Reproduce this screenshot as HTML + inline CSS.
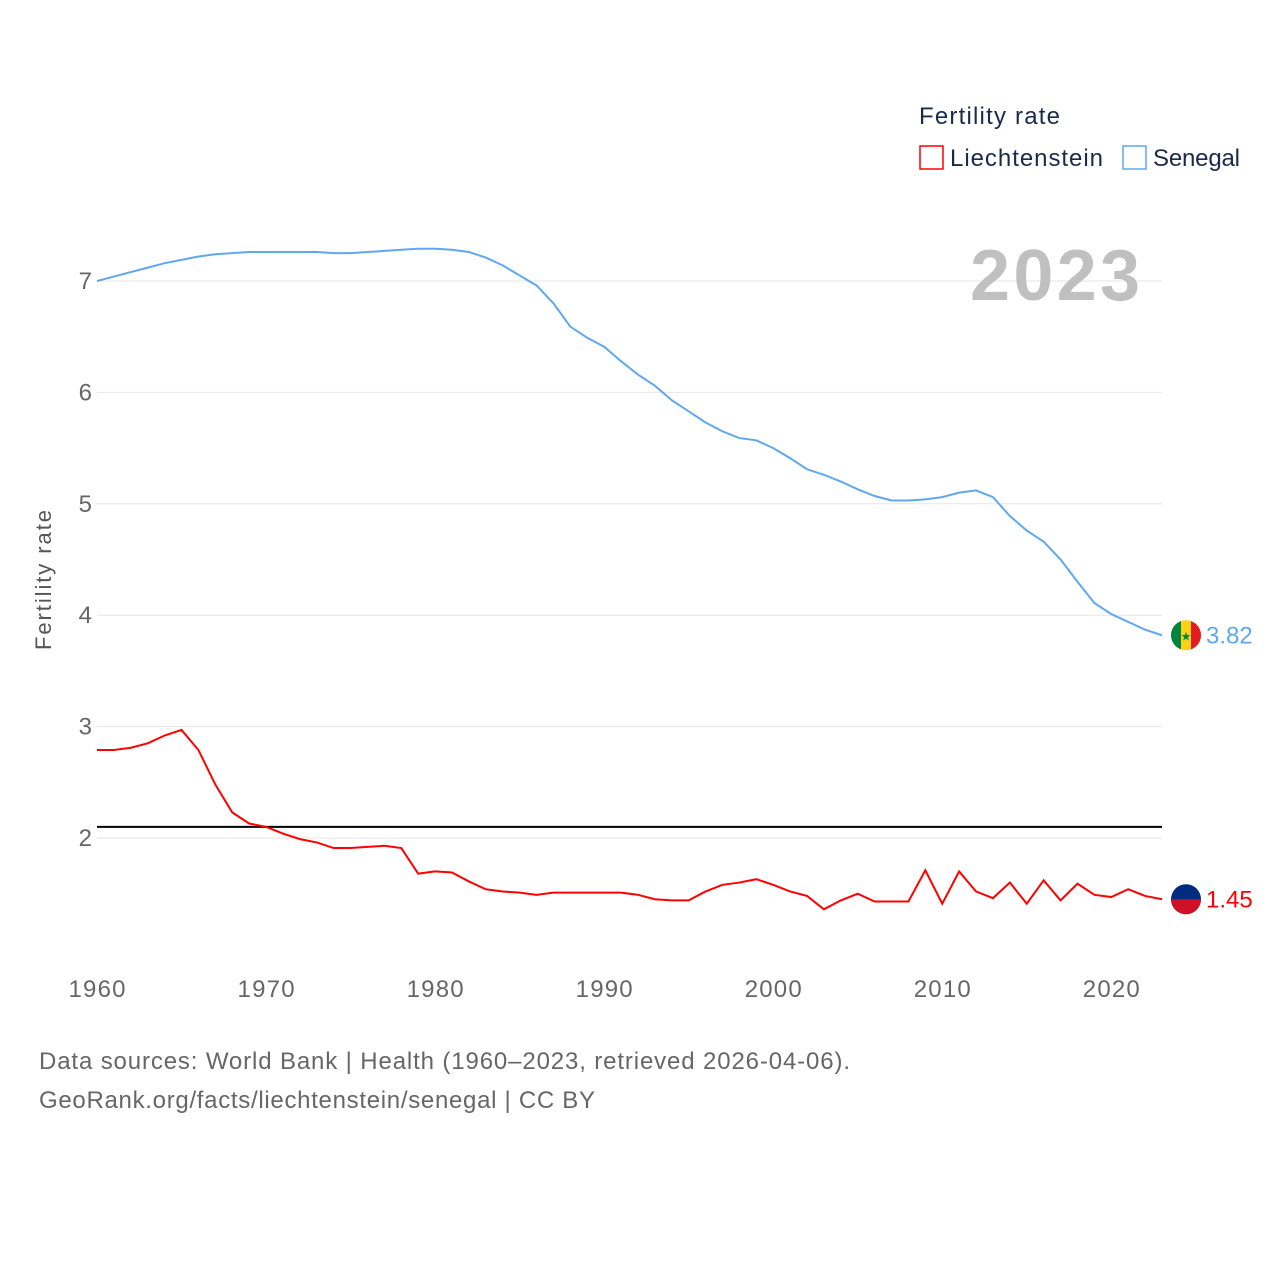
<!DOCTYPE html>
<html><head><meta charset="utf-8"><style>
body{margin:0;background:#fff;font-family:"Liberation Sans",sans-serif;}
svg text{font-family:"Liberation Sans",sans-serif;}
</style></head><body>
<svg id="chart" width="1280" height="1280" viewBox="0 0 1280 1280">
<defs>
<clipPath id="c1"><circle cx="1186" cy="635" r="15"/></clipPath>
</defs>
<g id="grid"></g><g id="axes"></g><g id="series"></g>
<text x="919" y="124" font-size="24" fill="#1a2a4a" textLength="141">Fertility rate</text>
<rect x="920" y="146" width="23" height="23" fill="none" stroke="#f00" stroke-width="1.5"/>
<text x="950" y="166" font-size="24" fill="#1a2a4a" textLength="153">Liechtenstein</text>
<rect x="1123" y="146" width="23" height="23" fill="none" stroke="#5fa8f0" stroke-width="1.5"/>
<text x="1153" y="166" font-size="24" fill="#1a2a4a" textLength="87">Senegal</text>
<text x="1140" y="300" font-size="72" font-weight="bold" fill="#c0c0c0" text-anchor="end" textLength="170">2023</text>
<text transform="translate(51,580) rotate(-90)" font-size="22" fill="#555" text-anchor="middle" textLength="140">Fertility rate</text>
<text x="39" y="1069" font-size="24" fill="#666" textLength="811">Data sources: World Bank | Health (1960–2023, retrieved 2026-04-06).</text>
<text x="39" y="1108" font-size="24" fill="#666" textLength="556">GeoRank.org/facts/liechtenstein/senegal | CC BY</text>
</svg>
<script>
const years=[];for(let y=1960;y<=2023;y++)years.push(y);
const senegal=[7.00,7.04,7.08,7.12,7.16,7.19,7.22,7.24,7.25,7.26,7.26,7.26,7.26,7.26,7.25,7.25,7.26,7.27,7.28,7.29,7.29,7.28,7.26,7.21,7.14,7.05,6.96,6.87,6.59,6.49,6.41,6.28,6.16,6.06,5.93,5.83,5.73,5.65,5.59,5.57,5.50,5.41,5.31,5.26,5.20,5.13,5.07,5.03,5.03,5.04,5.06,5.10,5.12,5.06,4.89,4.76,4.66,4.50,4.30,4.11,4.01,3.94,3.87,3.82];
senegal[27]=6.80;
const liech=[2.79,2.79,2.81,2.85,2.92,2.97,2.79,2.48,2.23,2.13,2.10,2.04,1.99,1.96,1.91,1.91,1.92,1.93,1.91,1.68,1.70,1.69,1.61,1.54,1.52,1.51,1.49,1.51,1.51,1.51,1.51,1.51,1.49,1.45,1.44,1.44,1.52,1.58,1.60,1.63,1.58,1.52,1.48,1.36,1.44,1.50,1.43,1.43,1.43,1.71,1.41,1.70,1.52,1.46,1.60,1.41,1.62,1.44,1.59,1.49,1.47,1.54,1.48,1.45];
const yTicks=[2,3,4,5,6,7];
const xTicks=[1960,1970,1980,1990,2000,2010,2020];
const replacement=2.1;
const NS='http://www.w3.org/2000/svg';
const X=v=>97+(v-1960)*(1162-97)/63;
const Y=v=>838-(v-2)*111.4;
function mk(t,a,p){const e=document.createElementNS(NS,t);for(const k in a)e.setAttribute(k,a[k]);p.appendChild(e);return e;}
const grid=document.getElementById('grid'),axes=document.getElementById('axes'),ser=document.getElementById('series');
yTicks.forEach(v=>{
 const l=mk('line',{x1:97,x2:1162,y1:Y(v),y2:Y(v),stroke:'#e6e6e6','stroke-width':1},grid);
 
 
 const t=mk('text',{x:92,y:Y(v)+8,'font-size':24,fill:'#666','text-anchor':'end'},axes);t.textContent=v;
 
 
});
xTicks.forEach(v=>{
 const t=mk('text',{x:X(v),y:997,'font-size':24,fill:'#666','text-anchor':'middle',textLength:57},axes);t.textContent=v;
 
 
});
const rl=mk('line',{x1:97,x2:1162,y1:Y(replacement),y2:Y(replacement),stroke:'#000','stroke-width':2},ser);


function line(data,color,name){
 const p=mk('polyline',{points:data.map((v,i)=>X(years[i])+','+Y(v)).join(' '),fill:'none',stroke:color,'stroke-width':2},ser);
 
 
 const lx=X(years[years.length-1]),ly=Y(data[data.length-1]);
 const c=mk('circle',{cx:lx+24,cy:ly,r:15,fill:color},ser);
 
 
 const t=mk('text',{x:lx+44,y:ly+8,'font-size':24,fill:color},ser);t.textContent=data[data.length-1].toFixed(2);
 
 
 return [c,lx,ly];
}
const s=line(senegal,'#5fa8f0','senegal');
s[0].setAttribute('fill','#fcd116');
document.querySelector('#c1 circle').setAttribute('cy',s[2]);
const g=mk('g',{'clip-path':'url(#c1)'},ser);
mk('rect',{x:s[1]+9,y:s[2]-15,width:10,height:30,fill:'#00853f'},g);
mk('rect',{x:s[1]+29,y:s[2]-15,width:10,height:30,fill:'#e31b23'},g);
mk('text',{x:s[1]+24,y:s[2]+5,'font-size':12,fill:'#00853f','text-anchor':'middle'},g).textContent='★';
const l=line(liech,'#f00','liechtenstein');
l[0].setAttribute('fill','#002b7f');
mk('path',{d:`M${l[1]+9} ${l[2]} A15 15 0 0 0 ${l[1]+39} ${l[2]} Z`,fill:'#ce1126'},ser);
</script>
</body></html>
